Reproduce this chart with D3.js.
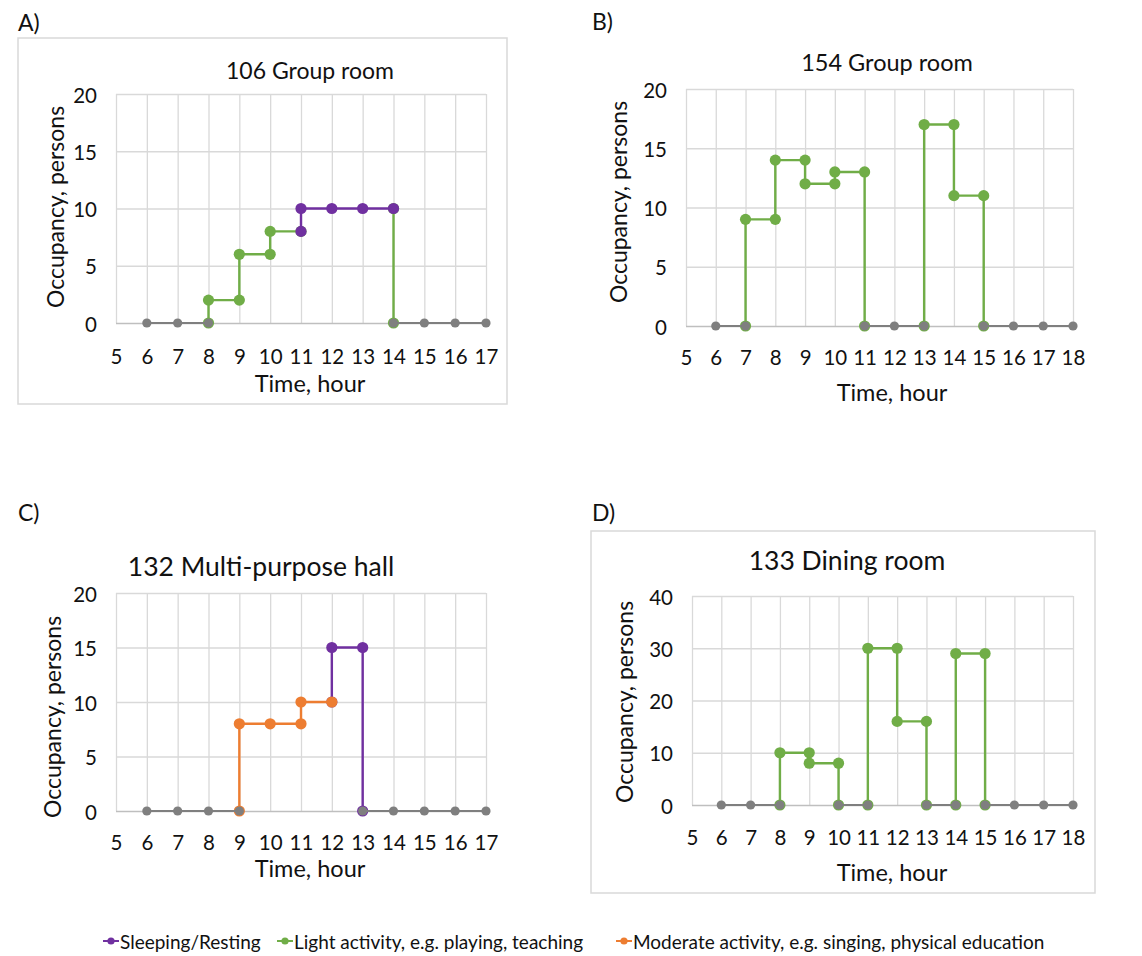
<!DOCTYPE html>
<html>
<head>
<meta charset="utf-8">
<script src="https://cdn.jsdelivr.net/npm/d3@7"></script>
<style>
  body { margin: 0; background: #fff; }
  svg text { font-family: Lato, "Noto Sans", sans-serif; fill: #111; }
</style>
</head>
<body>
<svg id="chart" width="1142" height="956"></svg>
<script>
// hour ticks
const hoursShort = [5, 6, 7, 8, 9, 10, 11, 12, 13, 14, 15, 16, 17];
const hoursLong = [5, 6, 7, 8, 9, 10, 11, 12, 13, 14, 15, 16, 17, 18];
const occTicks20 = [0, 5, 10, 15, 20];
const occTicks40 = [0, 10, 20, 30, 40];

// A) 106 Group room  - runs of [hour, persons]
const a_idle = [[[6, 0], [7, 0], [8, 0]], [[14, 0], [15, 0], [16, 0], [17, 0]]];
const a_light = [[[8, 0], [8, 2], [9, 2], [9, 6], [10, 6], [10, 8], [11, 8]], [[14, 10], [14, 0]]];
const a_sleep = [[[11, 8], [11, 10], [12, 10], [13, 10], [14, 10]]];
const a_moderate = [];

// B) 154 Group room
const b_idle = [[[6, 0], [7, 0]], [[11, 0], [12, 0], [13, 0]], [[15, 0], [16, 0], [17, 0], [18, 0]]];
const b_light = [[[7, 0], [7, 9], [8, 9], [8, 14], [9, 14], [9, 12], [10, 12], [10, 13], [11, 13], [11, 0]],
                 [[13, 0], [13, 17], [14, 17], [14, 11], [15, 11], [15, 0]]];
const b_sleep = [];
const b_moderate = [];

// C) 132 Multi-purpose hall
const c_idle = [[[6, 0], [7, 0], [8, 0], [9, 0]], [[13, 0], [14, 0], [15, 0], [16, 0], [17, 0]]];
const c_light = [];
const c_sleep = [[[12, 10], [12, 15], [13, 15], [13, 0]]];
const c_moderate = [[[9, 0], [9, 8], [10, 8], [11, 8], [11, 10], [12, 10]]];

// D) 133 Dining room
const d_idle = [[[6, 0], [7, 0], [8, 0]], [[10, 0], [11, 0]], [[13, 0], [14, 0]], [[15, 0], [16, 0], [17, 0], [18, 0]]];
const d_light = [[[8, 0], [8, 10], [9, 10], [9, 8], [10, 8], [10, 0]],
                 [[11, 0], [11, 30], [12, 30], [12, 16], [13, 16], [13, 0]],
                 [[14, 0], [14, 29], [15, 29], [15, 0]]];
const d_sleep = [];
const d_moderate = [];

const legendNames = ["Sleeping/Resting", "Light activity, e.g. playing, teaching", "Moderate activity, e.g. singing, physical education"];

const colors = { sleep: "#7030a0", light: "#70ad47", moderate: "#ed7d31", idle: "#7f7f7f" };

const panels = [
  { tag: "A)", tagX: 18, tagY: 22, title: "106 Group room", titleSize: 23, titleX: 310, titleY: 70,
    box: [18, 38, 489, 366], l: 116, r: 486, t: 94, b: 323, hours: hoursShort, yTicks: occTicks20,
    ylabX: 55, ylabY: 207, xlabX: 310, xlabY: 383, tickY: 356,
    series: { light: a_light, sleep: a_sleep, moderate: a_moderate, idle: a_idle } },
  { tag: "B)", tagX: 592, tagY: 21, title: "154 Group room", titleSize: 23.5, titleX: 887, titleY: 62,
    box: null, l: 686, r: 1073, t: 89, b: 326, hours: hoursLong, yTicks: occTicks20,
    ylabX: 618, ylabY: 202, xlabX: 892, xlabY: 392, tickY: 357,
    series: { light: b_light, sleep: b_sleep, moderate: b_moderate, idle: b_idle } },
  { tag: "C)", tagX: 18, tagY: 512, title: "132 Multi-purpose hall", titleSize: 26.5, titleX: 261, titleY: 566,
    box: null, l: 116, r: 486, t: 593, b: 811, hours: hoursShort, yTicks: occTicks20,
    ylabX: 52, ylabY: 717, xlabX: 310, xlabY: 868, tickY: 842,
    series: { light: c_light, sleep: c_sleep, moderate: c_moderate, idle: c_idle } },
  { tag: "D)", tagX: 592, tagY: 512, title: "133 Dining room", titleSize: 26.5, titleX: 847, titleY: 560,
    box: [591, 531, 504, 362], l: 692, r: 1073, t: 596, b: 805, hours: hoursLong, yTicks: occTicks40,
    ylabX: 624, ylabY: 702, xlabX: 892, xlabY: 872, tickY: 837,
    series: { light: d_light, sleep: d_sleep, moderate: d_moderate, idle: d_idle } }
];

const svg = d3.select("#chart");

panels.forEach(p => {
  const g = svg.append("g");

  if (p.box) {
    g.append("rect")
      .attr("x", p.box[0]).attr("y", p.box[1])
      .attr("width", p.box[2]).attr("height", p.box[3])
      .attr("fill", "none").attr("stroke", "#d9d9d9").attr("stroke-width", 1.5);
  }

  g.append("text").attr("x", p.tagX).attr("y", p.tagY)
    .attr("dominant-baseline", "central").attr("font-size", 23).text(p.tag);

  const x = d3.scaleLinear()
    .domain([p.hours[0], p.hours[p.hours.length - 1]])
    .range([p.l, p.r]);
  const y = d3.scaleLinear()
    .domain([0, p.yTicks[p.yTicks.length - 1]])
    .range([p.b, p.t]);

  // vertical grid + hour labels
  const xAxis = g.append("g")
    .attr("transform", "translate(0," + p.b + ")")
    .call(d3.axisBottom(x).tickValues(p.hours).tickSize(-(p.b - p.t)).tickSizeOuter(0));
  xAxis.select(".domain").remove();
  xAxis.selectAll("line").attr("stroke", "#d9d9d9").attr("stroke-width", 1.3);
  xAxis.selectAll("text")
    .attr("y", p.tickY - p.b).attr("dy", null)
    .attr("dominant-baseline", "central")
    .attr("font-size", 20.5).attr("font-family", "Lato, sans-serif").attr("fill", "#111");

  // horizontal grid + occupancy labels
  const yAxis = g.append("g")
    .attr("transform", "translate(" + p.l + ",0)")
    .call(d3.axisLeft(y).tickValues(p.yTicks).tickSize(-(p.r - p.l)).tickSizeOuter(0));
  yAxis.select(".domain").remove();
  yAxis.selectAll("line").attr("stroke", d => d === 0 ? "#bfbfbf" : "#d9d9d9").attr("stroke-width", 1.3);
  yAxis.selectAll("text")
    .attr("x", -19).attr("dy", null)
    .attr("dominant-baseline", "central")
    .attr("font-size", 20.5).attr("font-family", "Lato, sans-serif").attr("fill", "#111");

  g.append("text").attr("x", p.titleX).attr("y", p.titleY)
    .attr("text-anchor", "middle").attr("dominant-baseline", "central")
    .attr("font-size", p.titleSize).text(p.title);

  g.append("text")
    .attr("transform", "translate(" + p.ylabX + "," + p.ylabY + ") rotate(-90)")
    .attr("text-anchor", "middle").attr("dominant-baseline", "central")
    .attr("font-size", 23).text("Occupancy, persons");

  g.append("text").attr("x", p.xlabX).attr("y", p.xlabY)
    .attr("text-anchor", "middle").attr("dominant-baseline", "central")
    .attr("font-size", 23.5).text("Time, hour");

  const line = d3.line().x(d => x(d[0])).y(d => y(d[1]));

  // drawing order as in the source: light, sleeping, moderate, then idle on top
  ["light", "sleep", "moderate", "idle"].forEach(key => {
    const runs = p.series[key];
    const c = colors[key];
    const rad = key === "idle" ? 4.6 : 5.6;
    runs.forEach(run => {
      g.append("path").datum(run)
        .attr("d", line).attr("fill", "none")
        .attr("stroke", c).attr("stroke-width", key === "idle" ? 2 : 2.4);
    });
    runs.forEach(run => {
      g.selectAll(null).data(run).enter().append("circle")
        .attr("cx", d => x(d[0])).attr("cy", d => y(d[1]))
        .attr("r", rad).attr("fill", c);
    });
  });
});

// legend
const legendItems = [
  { name: legendNames[0], key: "sleep", x: 111 },
  { name: legendNames[1], key: "light", x: 285 },
  { name: legendNames[2], key: "moderate", x: 624 }
];
const legY = 941;
const leg = svg.append("g");
legendItems.forEach(it => {
  leg.append("line").attr("x1", it.x - 8).attr("x2", it.x + 8)
    .attr("y1", legY).attr("y2", legY)
    .attr("stroke", colors[it.key]).attr("stroke-width", 2);
  leg.append("circle").attr("cx", it.x).attr("cy", legY).attr("r", 3.6).attr("fill", colors[it.key]);
  leg.append("text").attr("x", it.x + 9).attr("y", legY)
    .attr("dominant-baseline", "central").attr("font-size", 19).text(it.name);
});
</script>
</body>
</html>
